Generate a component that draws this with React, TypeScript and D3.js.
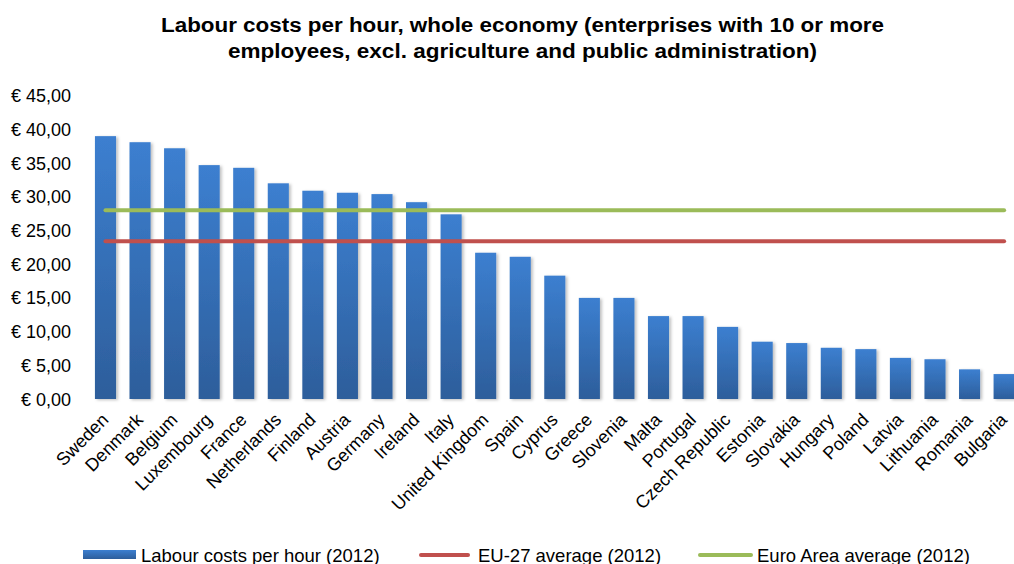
import React from "react";
import * as d3 from "d3";

const countries = ["Sweden","Denmark","Belgium","Luxembourg","France","Netherlands","Finland","Austria","Germany","Ireland","Italy","United Kingdom","Spain","Cyprus","Greece","Slovenia","Malta","Portugal","Czech Republic","Estonia","Slovakia","Hungary","Poland","Latvia","Lithuania","Romania","Bulgaria"];
const labourCosts = [39.0,38.1,37.2,34.7,34.3,32.0,30.9,30.6,30.4,29.2,27.4,21.7,21.1,18.3,15.0,15.0,12.3,12.3,10.7,8.5,8.3,7.6,7.4,6.1,5.9,4.4,3.7];
const eu27Average = 23.4;
const euroAreaAverage = 28.0;
const yTicks = [0,5,10,15,20,25,30,35,40,45];
const titleLines = ["Labour costs per hour, whole economy (enterprises with 10 or more","employees, excl. agriculture and public administration)"];
const titleWidths = [723, 589];
const legendLabels = ["Labour costs per hour (2012)","EU-27 average (2012)","Euro Area average (2012)"];

const W = 1014, H = 564;
const FONT = "Liberation Sans, Arial, sans-serif";

export default function App() {
  const x = d3.scaleBand<string>().domain(countries).range([88.2, 1021.4]).paddingInner(0.39).paddingOuter(0.195);
  const y = d3.scaleLinear().domain([0, 45]).range([399, 95.7]);
  const fmt = (v: number) => "€ " + v.toFixed(2).replace(".", ",");
  const cx = (c: string) => (x(c) as number) + x.bandwidth() / 2;
  const line = d3.line<[number, number]>().x(d => d[0]).y(d => d[1]);
  const firstX = cx(countries[0]);
  const lastX = cx(countries[countries.length - 1]);

  return (
    <svg width={W} height={H} style={{ position: "absolute", left: 0, top: 0, background: "#fff" }}>
      <defs>
        <linearGradient id="barGrad" x1="0" y1="0" x2="0" y2="1">
          <stop offset="0%" stopColor="#3c7fd0" />
          <stop offset="100%" stopColor="#2d5e9b" />
        </linearGradient>
        <filter id="shadow" x="-30%" y="-10%" width="160%" height="120%">
          <feDropShadow dx="2" dy="1" stdDeviation="1.5" floodColor="#000" floodOpacity="0.25" />
        </filter>
        <filter id="gshadow" x="-5%" y="-200%" width="110%" height="500%">
          <feDropShadow dx="0" dy="1" stdDeviation="0.8" floodColor="#000" floodOpacity="0.15" />
        </filter>
      </defs>
      <rect width={W} height={H} fill="#fff" />
      {titleLines.map((t, i) => (
        <text key={i} x={522.5} y={32 + i * 26} textAnchor="middle" fontFamily={FONT} fontWeight="bold" fontSize={20} fill="#000" textLength={titleWidths[i]} lengthAdjust="spacingAndGlyphs">{t}</text>
      ))}
      {yTicks.map(t => (
        <g key={t}>
          <line x1={88} x2={W} y1={y(t)} y2={y(t)} stroke="#bfbfbf" strokeWidth={1.5} filter="url(#gshadow)" />
          <text x={71} y={y(t) + 6.5} textAnchor="end" fontFamily={FONT} fontSize={18} fill="#000">{fmt(t)}</text>
        </g>
      ))}
      {countries.map((c, i) => (
        <rect key={c} x={x(c)} y={y(labourCosts[i])} width={x.bandwidth()} height={y(0) - y(labourCosts[i])} fill="url(#barGrad)" filter="url(#shadow)" />
      ))}
      <path d={line([[firstX, y(euroAreaAverage)], [lastX, y(euroAreaAverage)]]) || ""} stroke="#9bbb59" strokeWidth={4} strokeLinecap="round" fill="none" />
      <path d={line([[firstX, y(eu27Average)], [lastX, y(eu27Average)]]) || ""} stroke="#c0504d" strokeWidth={4} strokeLinecap="round" fill="none" />
      {countries.map(c => (
        <text key={c} transform={`translate(${cx(c) + 4},${421}) rotate(-45)`} textAnchor="end" fontFamily={FONT} fontSize={18} fill="#000">{c}</text>
      ))}
      <g fontFamily={FONT} fontSize={18.5} fill="#000">
        <rect x={83} y={550} width={53} height={9} fill="url(#barGrad)" />
        <text x={141} y={562}>{legendLabels[0]}</text>
        <line x1={421} x2={468} y1={555} y2={555} stroke="#c0504d" strokeWidth={4} strokeLinecap="round" />
        <text x={478} y={562}>{legendLabels[1]}</text>
        <line x1={700} x2={751} y1={555} y2={555} stroke="#9bbb59" strokeWidth={4} strokeLinecap="round" />
        <text x={757} y={562}>{legendLabels[2]}</text>
      </g>
    </svg>
  );
}
